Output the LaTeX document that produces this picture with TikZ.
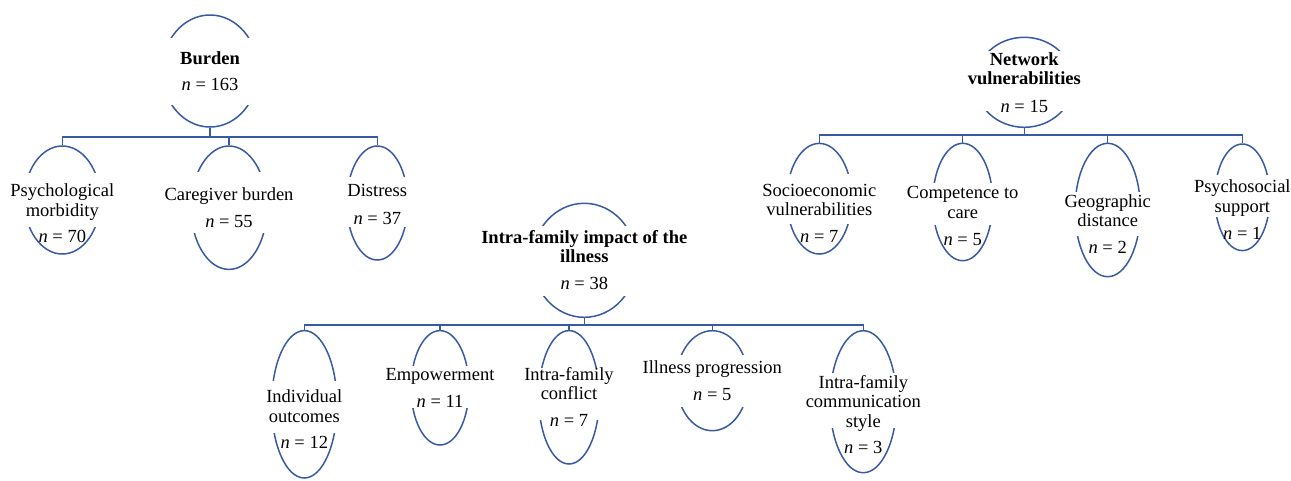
\documentclass[tikz,border=0pt]{standalone}
\usepackage{fontspec}
\setmainfont{Liberation Serif}
\usetikzlibrary{shapes.geometric}
\definecolor{lineblue}{RGB}{56,90,164}
\tikzset{
  ov/.style={ellipse, draw=lineblue, line width=1.5pt, inner sep=0pt},
  conn/.style={draw=lineblue, line width=1.5pt},
  lbl/.style={anchor=base, inner sep=0pt, font=\fontsize{18.5}{20}\selectfont},
  ttl/.style={lbl, font=\fontsize{18.5}{20}\selectfont\bfseries}
}
% name, cx, cy, a, b, cut top, cut bottom
\newcommand{\myoval}[7]{%
  \node[ov, minimum width={(2*#4)*1pt}, minimum height={(2*#5)*1pt}] (#1) at (#2,#3) {};
  \fill[white] ({#2-#4-3},#6) rectangle ({#2+#4+3},#7);
}
\begin{document}
\begin{tikzpicture}[x=1pt, y=-1pt]
\useasboundingbox (0,0) rectangle (1291,480);

% ---------- Burden group ----------
\myoval{burden}{210}{71}{48}{56}{38}{105}
\node[ttl] (burden-t1) at (210,64) {Burden};
\node[lbl] (burden-n) at (210,90.5) {\textit{n} = 163};

\myoval{pm}{62.3}{200}{38}{54}{172.7}{226.7}
\node[lbl] (pm-t1) at (62.3,196) {Psychological};
\node[lbl] (pm-t2) at (62.3,216.7) {morbidity};
\node[lbl] (pm-n) at (62.3,242.7) {\textit{n} = 70};

\myoval{cb}{229}{207.7}{38}{61.7}{172.3}{233.3}
\node[lbl] (cb-t1) at (229,200) {Caregiver burden};
\node[lbl] (cb-n) at (229,227.7) {\textit{n} = 55};

\myoval{dis}{377.3}{203}{30.5}{57}{176.7}{226.7}
\node[lbl] (dis-t1) at (377.3,196.7) {Distress};
\node[lbl] (dis-n) at (377.3,224.3) {\textit{n} = 37};

% ---------- Network group ----------
\myoval{net}{1024.3}{82.3}{49}{45}{50.7}{110.7}
\node[ttl] (net-t1) at (1024.3,65) {Network};
\node[ttl] (net-t2) at (1024.3,84) {vulnerabilities};
\node[lbl] (net-n) at (1024.3,112) {\textit{n} = 15};

\myoval{soc}{819.3}{198.7}{32.4}{55.3}{174}{224}
\node[lbl] (soc-t1) at (819.3,196) {Socioeconomic};
\node[lbl] (soc-t2) at (819.3,215) {vulnerabilities};
\node[lbl] (soc-n) at (819.3,242.7) {\textit{n} = 7};

\myoval{comp}{962.7}{202}{30}{58.7}{183}{225}
\node[lbl] (comp-t1) at (962.7,198.7) {Competence to};
\node[lbl] (comp-t2) at (962.7,218.7) {care};
\node[lbl] (comp-n) at (962.7,245.3) {\textit{n} = 5};

\myoval{geo}{1107.7}{210}{32.7}{66.7}{191.7}{236}
\node[lbl] (geo-t1) at (1107.7,207.7) {Geographic};
\node[lbl] (geo-t2) at (1107.7,226) {distance};
\node[lbl] (geo-n) at (1107.7,253.7) {\textit{n} = 2};

\myoval{psy}{1242.3}{197.3}{27.5}{53.3}{175}{217.3}
\node[lbl] (psy-t1) at (1242.3,192.7) {Psychosocial};
\node[lbl] (psy-t2) at (1242.3,212) {support};
\node[lbl] (psy-n) at (1242.3,239.3) {\textit{n} = 1};

% ---------- Intra-family group ----------
\myoval{intra}{584.3}{260.3}{52}{57}{226}{296}
\node[ttl] (intra-t1) at (584.3,243.7) {Intra-family impact of the};
\node[ttl] (intra-t2) at (584.3,262.7) {illness};
\node[lbl] (intra-n) at (584.3,289.3) {\textit{n} = 38};

\myoval{ind}{304.3}{404.3}{32.7}{73.7}{380.7}{432.7}
\node[lbl] (ind-t1) at (304.3,402) {Individual};
\node[lbl] (ind-t2) at (304.3,422.7) {outcomes};
\node[lbl] (ind-n) at (304.3,448.7) {\textit{n} = 12};

\myoval{emp}{440}{387.8}{29}{57.2}{366}{408.3}
\node[lbl] (emp-t1) at (440,380.3) {Empowerment};
\node[lbl] (emp-n) at (440,407.7) {\textit{n} = 11};

\myoval{conf}{569}{397.3}{30.3}{66.7}{368}{420}
\node[lbl] (conf-t1) at (569,380.3) {Intra-family};
\node[lbl] (conf-t2) at (569,399.3) {conflict};
\node[lbl] (conf-n) at (569,426) {\textit{n} = 7};

\myoval{ill}{712.3}{380.7}{36}{50}{355}{406.7}
\node[lbl] (ill-t1) at (712.3,373.7) {Illness progression};
\node[lbl] (ill-n) at (712.3,400.3) {\textit{n} = 5};

\myoval{comm}{863.3}{401.7}{33.3}{71}{373.3}{428.3}
\node[lbl] (comm-t1) at (863.3,388.7) {Intra-family};
\node[lbl] (comm-t2) at (863.3,407.7) {communication};
\node[lbl] (comm-t3) at (863.3,427) {style};
\node[lbl] (comm-n) at (863.3,453.3) {\textit{n} = 3};

% ---------- connectors ----------
\foreach \c in {pm,cb,dis}
  \draw[conn] (burden.south) -- ++(0,9) -| (\c.north);
\foreach \c in {soc,comp,geo,psy}
  \draw[conn] (net.south) -- ++(0,6.7) -| (\c.north);
\foreach \c in {ind,emp,conf,ill,comm}
  \draw[conn] (intra.south) -- ++(0,6.7) -| (\c.north);
\end{tikzpicture}
\end{document}
